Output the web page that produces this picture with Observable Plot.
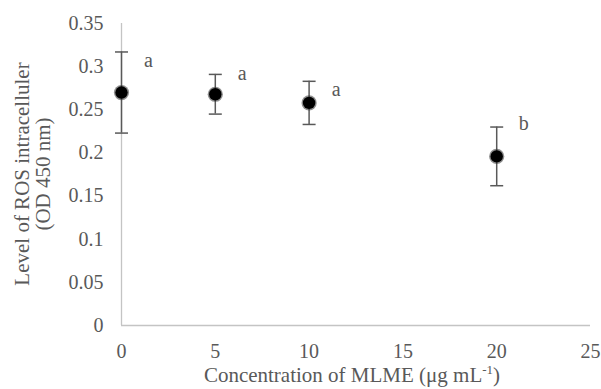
<!DOCTYPE html>
<html>
<head>
<meta charset="utf-8">
<script src="https://cdn.jsdelivr.net/npm/d3@7"></script>
<script src="https://cdn.jsdelivr.net/npm/@observablehq/plot@0.6"></script>
<style>
  html, body { margin: 0; padding: 0; background: #fff; }
  svg { display: block; }
</style>
</head>
<body>
<div id="chart"></div>
<script>
// ---- data ----
const concentration = [0, 5, 10, 20];          // µg mL-1
const rosMean = [0.270, 0.268, 0.258, 0.196];   // OD 450 nm
const rosErr = [0.047, 0.023, 0.025, 0.034];
const letters = ["a", "a", "a", "b"];
const letterY = [0.307, 0.292, 0.273, 0.234];   // annotation anchor (data units)
const xTicks = [0, 5, 10, 15, 20, 25];
const yTicks = [0, 0.05, 0.1, 0.15, 0.2, 0.25, 0.3, 0.35];
const yTitle = ["Level of ROS intracelluler", "(OD 450 nm)"];
const xTitle = "Concentration of MLME (\u03bcg mL";
const xTitleSup = "-1";

const data = concentration.map((c, i) => ({
  c, m: rosMean[i], e: rosErr[i], lab: letters[i], ly: letterY[i]
}));

const cap = {
  draw(ctx, size) {
    const r = Math.sqrt(size / Math.PI);
    ctx.moveTo(-r, 0);
    ctx.lineTo(r, 0);
  }
};

const grey = "#595959";
const font = "'Liberation Serif', 'Times New Roman', serif";

const svg = Plot.plot({
  width: 601,
  height: 389,
  marginLeft: 121,
  marginRight: 11,
  marginTop: 23,
  marginBottom: 64,
  style: { fontFamily: font, fontSize: "20px", color: grey, background: "#fff" },
  x: { domain: [0, 25], ticks: xTicks, tickSize: 0, tickPadding: 18, label: null },
  y: { domain: [0, 0.35], ticks: yTicks, tickSize: 0, tickPadding: 18, label: null,
       tickFormat: d => String(+d.toFixed(2)) },
  marks: [
    Plot.ruleY([0], { stroke: "#c4c4c4", strokeWidth: 1.3 }),
    Plot.ruleX([0], { stroke: "#c4c4c4", strokeWidth: 1.3 }),
    Plot.ruleX(data, { x: "c", y1: d => d.m - d.e, y2: d => d.m + d.e, stroke: grey, strokeWidth: 1.5 }),
    Plot.dot(data, { x: "c", y: d => d.m - d.e, symbol: cap, r: 6.5, fill: "none", stroke: grey, strokeWidth: 1.5 }),
    Plot.dot(data, { x: "c", y: d => d.m + d.e, symbol: cap, r: 6.5, fill: "none", stroke: grey, strokeWidth: 1.5 }),
    Plot.dot(data, { x: "c", y: "m", r: 7.6, fill: "#333", fillOpacity: 0.55 }),
    Plot.dot(data, { x: "c", y: "m", r: 6.2, fill: "#000" }),
    Plot.text(data, { x: "c", y: "ly", text: "lab", dx: 27, fill: grey, fontSize: 20 })
  ]
});

const s = d3.select(svg);
// Y axis title (two lines, rotated, centred on the plot area)
const yt = s.append("g")
  .attr("transform", "translate(0,174) rotate(-90)")
  .attr("font-family", font).attr("font-size", 21).attr("fill", grey)
  .attr("text-anchor", "middle");
yt.append("text").attr("x", 0).attr("y", 22).attr("dy", "0.35em").text(yTitle[0]);
yt.append("text").attr("x", 0).attr("y", 43).attr("dy", "0.35em").text(yTitle[1]);

// X axis title with superscript
const xt = s.append("text")
  .attr("x", 352).attr("y", 382)
  .attr("font-family", font).attr("font-size", 21).attr("fill", grey)
  .attr("text-anchor", "middle");
xt.append("tspan").text(xTitle);
xt.append("tspan").attr("font-size", 13).attr("dy", -8).text(xTitleSup);
xt.append("tspan").attr("dy", 8).text(")");

document.getElementById("chart").appendChild(svg);
</script>
</body>
</html>
